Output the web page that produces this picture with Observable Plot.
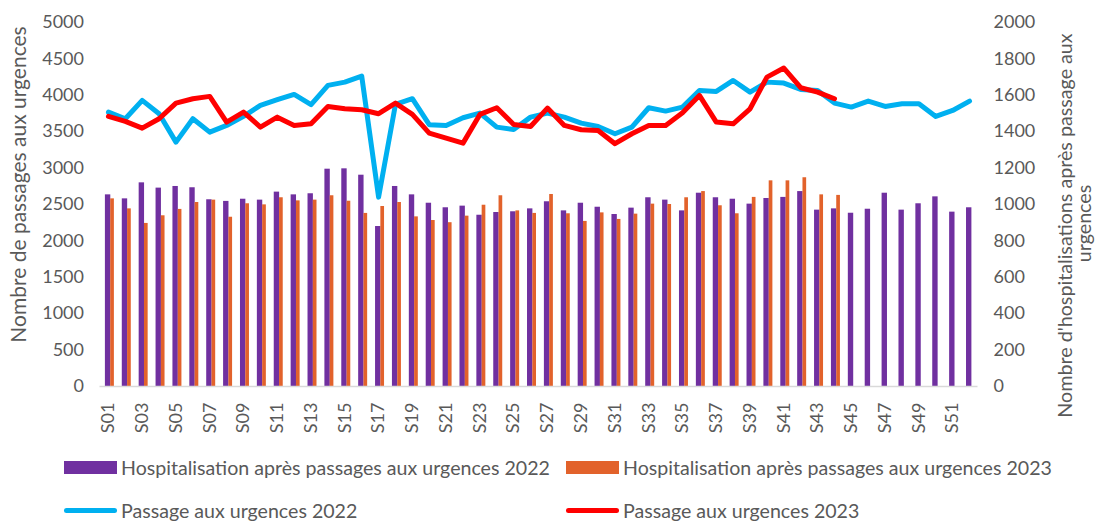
<!DOCTYPE html>
<html><head><meta charset="utf-8">
<script src="https://cdn.jsdelivr.net/npm/d3@7"></script>
<script src="https://cdn.jsdelivr.net/npm/@observablehq/plot@0.6"></script>
<style>
body{margin:0;background:#fff;font-family:Lato,"Open Sans",sans-serif;}
#legend{position:relative;width:1102px;height:77px;color:#595959;font-size:19.6px;}
.item{position:absolute;display:flex;align-items:center;height:22px;white-space:nowrap;}
.sw{display:inline-block;margin-right:4px;}
</style></head><body>
<div id="chart"></div>
<div id="legend"></div>
<script>
const weeks = ["S01","S02","S03","S04","S05","S06","S07","S08","S09","S10","S11","S12","S13","S14","S15","S16","S17","S18","S19","S20","S21","S22","S23","S24","S25","S26","S27","S28","S29","S30","S31","S32","S33","S34","S35","S36","S37","S38","S39","S40","S41","S42","S43","S44","S45","S46","S47","S48","S49","S50","S51","S52"];
const xTickLabels = ["S01","S03","S05","S07","S09","S11","S13","S15","S17","S19","S21","S23","S25","S27","S29","S31","S33","S35","S37","S39","S41","S43","S45","S47","S49","S51"];
const leftTicks = [0,500,1000,1500,2000,2500,3000,3500,4000,4500,5000];
const rightTicks = [0,200,400,600,800,1000,1200,1400,1600,1800,2000];

// Hospitalisations après passages aux urgences (axe de droite)
const hosp2022 = [1053,1031,1119,1090,1099,1092,1026,1017,1029,1024,1068,1053,1059,1194,1196,1161,879,1099,1053,1007,982,991,941,956,960,976,1015,965,1007,985,945,980,1037,1024,965,1062,1037,1029,1002,1033,1039,1071,969,976,952,974,1062,969,1004,1042,958,982];
const hosp2023 = [1031,976,896,938,973,1011,1024,930,1004,998,1037,1020,1024,1048,1018,951,989,1011,932,912,900,936,996,1048,965,951,1055,949,907,954,918,947,1002,1000,1037,1071,993,949,1039,1130,1130,1147,1053,1050];
// Passages aux urgences (axe de gauche)
const pass2022 = [3769,3678,3930,3747,3357,3678,3494,3586,3710,3861,3939,4012,3871,4136,4181,4264,2601,3875,3953,3596,3586,3692,3756,3563,3531,3700,3756,3700,3618,3572,3472,3563,3829,3783,3838,4067,4053,4204,4044,4181,4168,4081,4067,3893,3838,3920,3847,3884,3884,3710,3792,3920];
const pass2023 = [3710,3641,3549,3678,3893,3953,3985,3632,3769,3563,3700,3586,3609,3847,3815,3802,3747,3893,3737,3480,3412,3343,3737,3829,3600,3572,3824,3586,3527,3517,3335,3472,3586,3586,3760,3998,3632,3609,3815,4250,4374,4104,4044,3953];

const leftTitle = "Nombre de passages aux urgences";
const rightTitle1 = "Nombre d'hospitalisations après passage aux";
const rightTitle2 = "urgences";
const legendItems = [
  {label:"Hospitalisation après passages aux urgences 2022", color:"#7030A0", kind:"bar"},
  {label:"Hospitalisation après passages aux urgences 2023", color:"#E2622B", kind:"bar"},
  {label:"Passage aux urgences 2022", color:"#00B0F0", kind:"line"},
  {label:"Passage aux urgences 2023", color:"#FF0000", kind:"line"}
];

const RATIO = 5000 / 2000;
const toRows = arr => arr.map((v, i) => ({week: weeks[i], v}));
const h22 = toRows(hosp2022), h23 = toRows(hosp2023);
const p22 = toRows(pass2022), p23 = toRows(pass2023);

const W = 1102, H = 445;
const ML = 99.5, MR = 124.5, MT = 22, MB = 59;

const chart = Plot.plot({
  width: W, height: H,
  marginLeft: ML, marginRight: MR, marginTop: MT, marginBottom: MB,
  style: {fontSize: "18px", fontFamily: "Lato, 'Open Sans', sans-serif", color: "#595959", background: "#fff", overflow: "visible"},
  x: {type: "band", domain: weeks, padding: 0, round: false},
  y: {domain: [0, 5000]},
  marks: [
    Plot.barY(h22, {x: "week", y: d => d.v * RATIO, fill: "#7030A0", insetLeft: 5.4, insetRight: 6.1}),
    Plot.barY(h23, {x: "week", y: d => d.v * RATIO, fill: "#E2622B", insetLeft: 10.7, insetRight: 2.5}),
    Plot.ruleY([0], {stroke: "#d9d9d9", strokeWidth: 1.5}),
    Plot.line(p22, {x: "week", y: "v", stroke: "#00B0F0", strokeWidth: 5, strokeLinejoin: "round", strokeLinecap: "round"}),
    Plot.line(p23, {x: "week", y: "v", stroke: "#FF0000", strokeWidth: 5, strokeLinejoin: "round", strokeLinecap: "round"}),
    Plot.axisY({ticks: leftTicks, tickSize: 0, tickPadding: 16, label: null, tickFormat: d => String(d)}),
    Plot.axisY({anchor: "right", ticks: leftTicks, tickSize: 0, tickPadding: 15.5, label: null,
      tickFormat: (d, i) => String(rightTicks[i])}),
    Plot.axisX({ticks: xTickLabels, tickSize: 0, tickPadding: 16, tickRotate: -90, label: null}),
    Plot.text([leftTitle], {text: d => d, frameAnchor: "left", textAnchor: "middle", lineAnchor: "middle", rotate: -90, dx: -80.5, dy: -20, fontSize: 21, fill: "#595959"}),
    Plot.text([rightTitle1], {text: d => d, frameAnchor: "right", textAnchor: "middle", lineAnchor: "middle", rotate: -90, dx: 87.5, dy: 21, fontSize: 19.7, fill: "#595959"}),
    Plot.text([rightTitle2], {text: d => d, frameAnchor: "right", textAnchor: "middle", lineAnchor: "middle", rotate: -90, dx: 107, dy: 19, fontSize: 19.7, fill: "#595959"})
  ]
});
document.getElementById("chart").appendChild(chart);

// Legend
const pos = [{x:64, y:22}, {x:566, y:22}, {x:64, y:65}, {x:566, y:65}];
const legend = d3.select("#legend");
legendItems.forEach((it, i) => {
  const div = legend.append("div").attr("class", "item")
    .style("left", pos[i].x + "px").style("top", (pos[i].y - 11) + "px");
  if (it.kind === "bar") {
    div.append("span").attr("class", "sw")
      .style("width", "53px").style("height", "13px").style("background", it.color);
  } else {
    div.append("span").attr("class", "sw")
      .style("width", "53px").style("height", "5px").style("border-radius", "3px").style("background", it.color);
  }
  div.append("span").text(it.label);
});
</script>
</body></html>
